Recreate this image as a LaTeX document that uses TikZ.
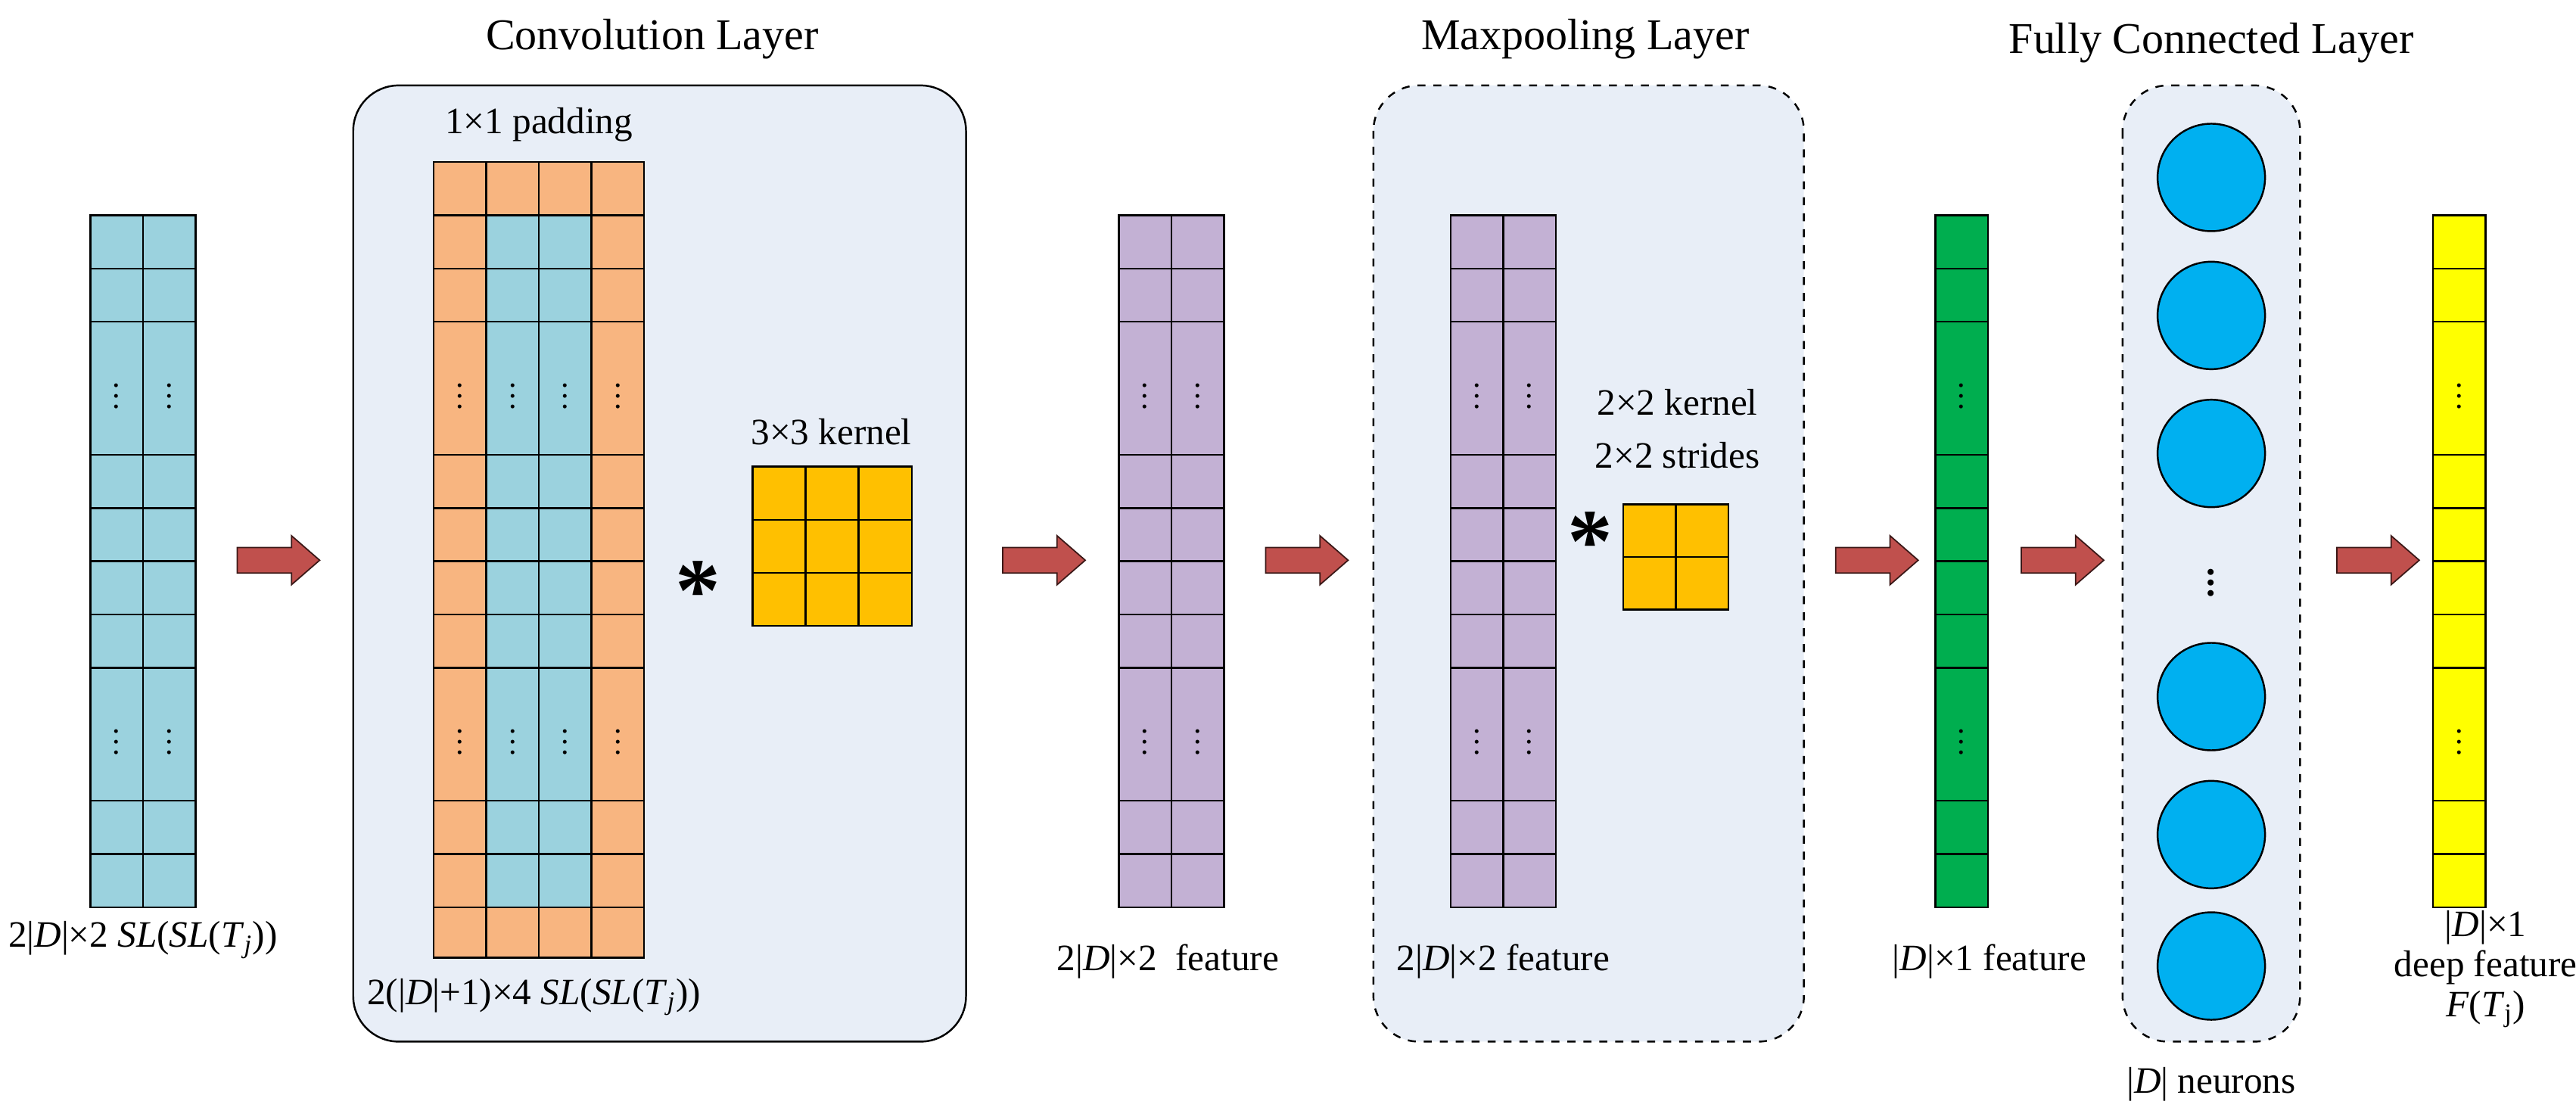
\documentclass[tikz,border=0pt]{standalone}
\usepackage{fontspec}
\setmainfont{Liberation Serif}
\usetikzlibrary{shapes.arrows}
\usetikzlibrary{positioning}

\definecolor{cellblue}{HTML}{9BD2DE}
\definecolor{cellorange}{HTML}{F8B580}
\definecolor{cellpurple}{HTML}{C3B1D4}
\definecolor{cellgreen}{HTML}{00AE4F}
\definecolor{cellyellow}{HTML}{FFFF00}
\definecolor{kernelgold}{HTML}{FFC000}
\definecolor{layerbg}{HTML}{E8EEF7}
\definecolor{arrowred}{HTML}{C0504D}
\definecolor{neuron}{HTML}{00B0F0}

% one feature map: x of left edge, top y, columns, colour
\newcommand{\featmap}[4]{%
  \fill[#4] (#1,#2) rectangle ++(32*#3,13*32.4);
  \foreach \r in {1,2,4.5,5.5,6.5,7.5,8.5,11,12}
    \draw[grid] (#1,#2+\r*32.4) -- ++(32*#3,0);
  \foreach \c in {1,...,#3} {
    \ifnum\c<#3 \draw[grid] (#1+32*\c,#2) -- ++(0,13*32.4); \fi
    \node[dots] at (#1+32*\c-16,#2+3.25*32.4) {$\vdots$};
    \node[dots] at (#1+32*\c-16,#2+9.75*32.4) {$\vdots$};
  }
  \draw[grid] (#1,#2) rectangle ++(32*#3,13*32.4);
}

\begin{document}
\begin{tikzpicture}[x=0.21709mm, y=-0.21709mm,
  grid/.style={draw=black, line width=0.7pt},
  dots/.style={inner sep=0pt, font=\fontsize{12}{12}\selectfont},
  layer/.style={draw=black, fill=layerbg, rounded corners=0.6cm, line width=0.7pt},
  dashedlayer/.style={layer, dashed},
  blockarrow/.style={single arrow, draw=black!70!arrowred, fill=arrowred, line width=0.5pt,
    minimum width=0.62cm, minimum height=1.09cm, single arrow head extend=0.155cm,
    single arrow tip angle=82, inner xsep=0pt, inner ysep=0.16cm, text height=0pt, text depth=0pt},
  title/.style={font=\fontsize{16.5}{19}\selectfont},
  lbl/.style={font=\fontsize{14}{16}\selectfont, align=center},
  star/.style={font=\fontsize{34}{34}\selectfont\bfseries, inner sep=0pt},
  unit/.style={circle, draw=black, fill=neuron, line width=0.7pt, minimum size=1.42cm, inner sep=0pt}]
\useasboundingbox (0,0) rectangle (1568,681.7);

% layer boxes
\draw[layer] (215,52) rectangle (588,634);
\draw[dashedlayer] (836,52) rectangle (1098,634);
\draw[dashedlayer] (1292,52) rectangle (1400,634);
\node[title] (convT) at (397,24) {Convolution Layer};
\node[title] (poolT) at (965,24) {Maxpooling Layer};
\node[title] (fcT) at (1346,26) {Fully Connected Layer};

% input
\featmap{55}{131}{2}{cellblue}
\coordinate (input) at (87,552);
\node[lbl, below=2pt of input] (inputL) {2|\textit{D}|×2 \textit{SL}(\textit{SL}(\textit{T}\textsubscript{\textit{j}}))};

% padded input
\fill[cellorange] (264,98.6) rectangle (392,583);
\fill[cellblue] (296,131) rectangle (360,552);
\foreach \r in {0,1,2,4.5,5.5,6.5,7.5,8.5,11,12,13}
  \draw[grid] (264,131+\r*32.4) -- (392,131+\r*32.4);
\foreach \c in {1,2,3} \draw[grid] (264+32*\c,98.6) -- (264+32*\c,583);
\foreach \c in {1,...,4} {
  \node[dots] at (264+32*\c-16,131+3.25*32.4) {$\vdots$};
  \node[dots] at (264+32*\c-16,131+9.75*32.4) {$\vdots$};
}
\draw[grid] (264,98.6) rectangle (392,583);
\node[lbl] (padL) at (328,76) {1×1 padding};
\node[lbl] (paddedL) at (325,607) {2(|\textit{D}|+1)×4 \textit{SL}(\textit{SL}(\textit{T}\textsubscript{\textit{j}}))};

% 3x3 kernel
\node[star] (star1) at (425,360) {*};
\fill[kernelgold] (458,284) rectangle (555,381);
\foreach \k in {1,2} {
  \draw[grid] (458+32.33*\k,284) -- (458+32.33*\k,381);
  \draw[grid] (458,284+32.33*\k) -- (555,284+32.33*\k);
}
\draw[grid] (458,284) rectangle (555,381);
\node[lbl] (k3L) at (506,263) {3×3 kernel};

% conv output
\featmap{681}{131}{2}{cellpurple}
\node[lbl] (featL) at (711,585) {2|\textit{D}|×2~~feature};

% pooling input
\featmap{883}{131}{2}{cellpurple}
\node[lbl] (poolL) at (915,585) {2|\textit{D}|×2 feature};
\node[star] (star2) at (968,330) {*};
\fill[kernelgold] (988,307) rectangle (1052,371);
\draw[grid] (988,339) -- (1052,339) (1020,307) -- (1020,371);
\draw[grid] (988,307) rectangle (1052,371);
\node[lbl] (k2L) at (1021,245) {2×2 kernel};
\node[lbl] (s2L) at (1021,277) {2×2 strides};

% flattened feature
\featmap{1178}{131}{1}{cellgreen}
\node[lbl] (flatL) at (1211,585) {|\textit{D}|×1 feature};

% neurons
\foreach \y [count=\i] in {108,192,276,424,508,588}
  \node[unit] (n\i) at (1346,\y) {};
\node[dots, font=\fontsize{14}{14}\selectfont\bfseries] (ndots) at (1346,350) {$\vdots$};
\node[lbl] (neuL) at (1346,660) {|\textit{D}| neurons};

% deep feature
\featmap{1481}{131}{1}{cellyellow}
\node[lbl, font=\fontsize{14}{15}\selectfont] (deepL) at (1513,590) {|\textit{D}|×1\\deep feature\\\textit{F}(\textit{T}\textsubscript{j})};

% arrows
\foreach \x [count=\i] in {165,631,791,1138,1251,1443}
  \node[blockarrow] (a\i) at (\x,341) {};
\end{tikzpicture}
\end{document}
